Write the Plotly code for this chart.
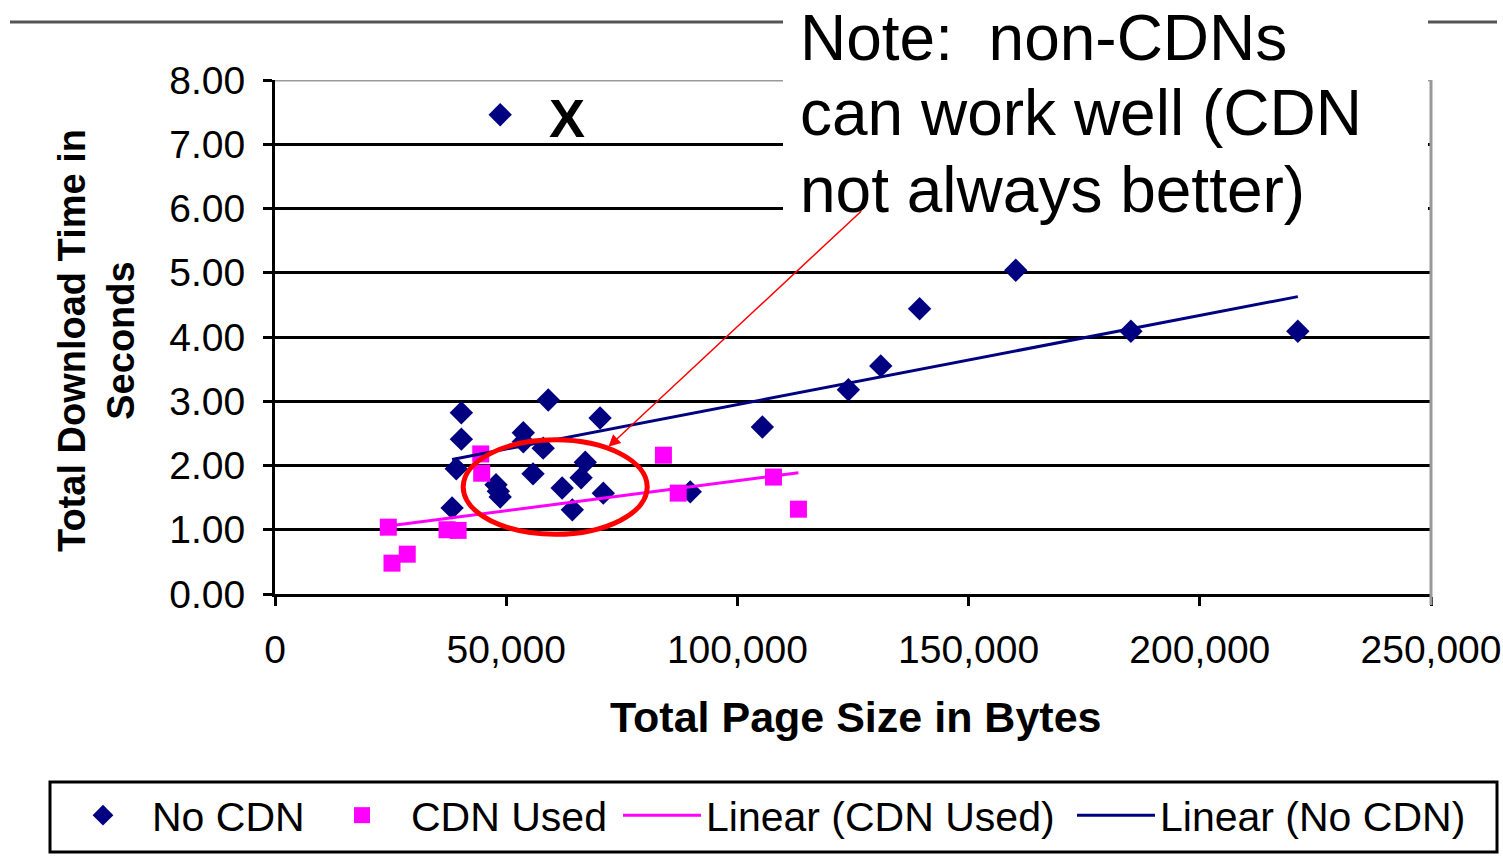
import numpy as np
import plotly.graph_objects as go

# ---------------- data ----------------
no_cdn_size = [48700, 40300, 40300, 53700, 53700, 58000, 39200, 55800, 47800, 48300,
               48700, 38300, 59100, 70300, 67100, 66200, 62100, 64300, 71000, 89800,
               105400, 124000, 131000, 139400, 160200, 185100, 221200]
no_cdn_time = [7.46, 2.82, 2.41, 2.51, 2.37, 2.27, 1.95, 1.87, 1.70, 1.60,
               1.51, 1.34, 3.02, 2.74, 2.05, 1.81, 1.65, 1.31, 1.57, 1.59,
               2.60, 3.18, 3.55, 4.44, 5.04, 4.09, 4.09]
cdn_size = [24500, 25300, 28600, 37200, 39600, 44500, 44700, 84000, 87200, 107800, 113200]
cdn_time = [1.04, 0.48, 0.62, 1.00, 0.99, 2.18, 1.88, 2.16, 1.57, 1.82, 1.32]

x_ticks = [0, 50000, 100000, 150000, 200000, 250000]
y_ticks = [0, 1, 2, 3, 4, 5, 6, 7, 8]

NAVY = "#000080"
MAG = "#FF00FF"
FONT = "Liberation Sans, Arial, sans-serif"

W, H = 1503, 856
L, R, T, B = 275, 1431, 80, 594  # plot area in pixels


def px(p):
    return (p - L) / (R - L)


def py(p):
    return (B - p) / (B - T)


def fit(xs, ys):
    k, b = np.polyfit(np.array(xs, float), np.array(ys, float), 1)
    xr = np.array([min(xs), max(xs)], float)
    return xr, k * xr + b


cx, cy = fit(cdn_size, cdn_time)
nx, ny = fit(no_cdn_size, no_cdn_time)

fig = go.Figure()
fig.add_trace(go.Scatter(x=no_cdn_size, y=no_cdn_time, mode="markers", name="No CDN",
                         marker=dict(symbol="diamond", size=18, color=NAVY), legend="legend"))
fig.add_trace(go.Scatter(x=cdn_size, y=cdn_time, mode="markers", name="CDN Used",
                         marker=dict(symbol="square", size=17, color=MAG), legend="legend2"))
fig.add_trace(go.Scatter(x=cx, y=cy, mode="lines", name="Linear (CDN Used)",
                         line=dict(color=MAG, width=3), legend="legend3"))
fig.add_trace(go.Scatter(x=nx, y=ny, mode="lines", name="Linear (No CDN)",
                         line=dict(color=NAVY, width=3), legend="legend4"))

leg_common = dict(orientation="h", bgcolor="rgba(0,0,0,0)", borderwidth=0,
                  font=dict(family=FONT, size=41, color="black"),
                  xanchor="left", yanchor="top", y=py(782))
layout_legends = dict(
    legend=dict(x=px(54), itemwidth=88, **leg_common),
    legend2=dict(x=px(313), itemwidth=88, **leg_common),
    legend3=dict(x=px(618), itemwidth=78, **leg_common),
    legend4=dict(x=px(1072), itemwidth=78, **leg_common),
)

fig.update_layout(
    width=W, height=H,
    margin=dict(l=L, r=W - R, t=T, b=H - B, pad=0, autoexpand=False),
    paper_bgcolor="white", plot_bgcolor="white",
    font=dict(family=FONT, color="black"),
    showlegend=True,
    **layout_legends,
)

fig.update_xaxes(range=[0, 250000], tickvals=x_ticks, tickformat=",d",
                 ticks="outside", ticklen=9, tickwidth=3, tickcolor="black",
                 showline=True, linecolor="black", linewidth=3,
                 showgrid=False, zeroline=False,
                 tickfont=dict(family=FONT, size=39, color="black"),
                 ticklabelstandoff=10)
fig.update_yaxes(range=[0, 8], tickvals=y_ticks, tickformat=".2f",
                 ticks="outside", ticklen=9, tickwidth=3, tickcolor="black",
                 showline=True, linecolor="black", linewidth=3,
                 showgrid=True, gridcolor="black", gridwidth=2.5, zeroline=False,
                 tickfont=dict(family=FONT, size=39, color="black"),
                 ticklabelstandoff=10)

shapes = []
# top separator line of the slide
shapes.append(dict(type="line", xref="paper", yref="paper", x0=px(10), x1=px(1497),
                   y0=py(22), y1=py(22), line=dict(color="#555555", width=3), layer="above"))
# top gridline grey
shapes.append(dict(type="line", xref="paper", yref="y", x0=0, x1=1, y0=8, y1=8,
                   line=dict(color="#999999", width=3), layer="above"))
# white box behind the note
shapes.append(dict(type="rect", xref="paper", yref="paper", x0=px(783), x1=px(1428),
                   y0=py(229), y1=py(-5), fillcolor="white", line=dict(width=0), layer="above"))
# right border of plot area
shapes.append(dict(type="line", xref="paper", yref="paper", x0=1, x1=1, y0=py(605), y1=1,
                   line=dict(color="#999999", width=3), layer="above"))
# red ellipse
shapes.append(dict(type="circle", xref="x", yref="y", x0=40700, x1=80500, y0=0.93, y1=2.40,
                   line=dict(color="red", width=5), layer="above"))
# legend frame
shapes.append(dict(type="rect", xref="paper", yref="paper", x0=px(50), x1=px(1497),
                   y0=py(852), y1=py(782), line=dict(color="black", width=3),
                   fillcolor="rgba(0,0,0,0)"))

annotations = []
note_lines = ["Note:  non-CDNs", "can work well (CDN", "not always better)"]
note_y = [38, 113, 190]
for t, yy in zip(note_lines, note_y):
    annotations.append(dict(text=t, xref="paper", yref="paper", x=px(798), y=py(yy),
                            xanchor="left", yanchor="middle", showarrow=False,
                            font=dict(family=FONT, size=64, color="black")))
# arrow
annotations.append(dict(text="", x=72100, y=2.29, xref="x", yref="y",
                        ax=127100, ay=5.98, axref="x", ayref="y",
                        showarrow=True, arrowhead=2, arrowsize=1.6, arrowwidth=1.5,
                        arrowcolor="red"))
# X mark
annotations.append(dict(text="<b>X</b>", x=63200, y=7.41, xref="x", yref="y",
                        xanchor="center", yanchor="middle",
                        showarrow=False, font=dict(family=FONT, size=54, color="black")))
# axis titles
annotations.append(dict(text="<b>Total Page Size in Bytes</b>", xref="paper", yref="paper",
                        x=px(855), y=py(717), xanchor="center", yanchor="middle", showarrow=False,
                        font=dict(family=FONT, size=43, color="black")))
annotations.append(dict(text="<b>Total Download Time in<br>Seconds</b>", xref="paper", yref="paper",
                        x=px(96), y=py(340), xanchor="center", yanchor="middle",
                        showarrow=False, textangle=-90,
                        font=dict(family=FONT, size=38, color="black")))

fig.update_layout(shapes=shapes, annotations=annotations)

fig.write_html("out.html")
